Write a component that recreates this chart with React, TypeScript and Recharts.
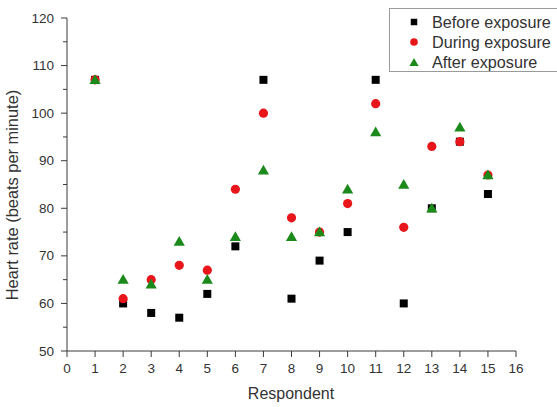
import { ScatterChart, Scatter, XAxis, YAxis, Label } from 'recharts'

const respondents = [1, 2, 3, 4, 5, 6, 7, 8, 9, 10, 11, 12, 13, 14, 15]
const beforeExposure = [107, 60, 58, 57, 62, 72, 107, 61, 69, 75, 107, 60, 80, 94, 83]
const duringExposure = [107, 61, 65, 68, 67, 84, 100, 78, 75, 81, 102, 76, 93, 94, 87]
const afterExposure = [107, 65, 64, 73, 65, 74, 88, 74, 75, 84, 96, 85, 80, 97, 87]

const xTicks = [0, 1, 2, 3, 4, 5, 6, 7, 8, 9, 10, 11, 12, 13, 14, 15, 16]
const yTicks = [50, 55, 60, 65, 70, 75, 80, 85, 90, 95, 100, 105, 110, 115, 120]

const font = '"Liberation Sans", Arial, sans-serif'
const axisColor = '#3a3a3a'
const textColor = '#333'
const RED = '#e8161a'
const GREEN = '#1b8a1b'

const toPoints = (vals: number[]) => respondents.map((r, i) => ({ x: r, y: vals[i] }))

const Square = ({ cx, cy, s = 8 }: any) => <rect x={cx - s / 2} y={cy - s / 2} width={s} height={s} fill="#000" />
const Dot = ({ cx, cy, r = 4.6 }: any) => <circle cx={cx} cy={cy} r={r} fill={RED} />
const Tri = ({ cx, cy, s = 5.6 }: any) => (
  <polygon points={`${cx},${cy - s} ${cx - s},${cy + s * 0.75} ${cx + s},${cy + s * 0.75}`} fill={GREEN} />
)

const YTick = ({ x, y, payload }: any) => {
  const major = payload.value % 10 === 0
  return (
    <g>
      <line x1={x - (major ? 6 : 4)} x2={x} y1={y} y2={y} stroke={axisColor} />
      {major && (
        <text x={x - 13} y={y} dy={4.5} textAnchor="end" fontSize={13.5} fill={textColor} fontFamily={font}>
          {payload.value}
        </text>
      )}
    </g>
  )
}

const XTick = ({ x, y, payload }: any) => (
  <g>
    <line x1={x} x2={x} y1={y} y2={y + 6} stroke={axisColor} />
    <text x={x} y={y + 22} textAnchor="middle" fontSize={13.5} fill={textColor} fontFamily={font}>
      {payload.value}
    </text>
  </g>
)

const legendRows = [
  { name: 'Before exposure', icon: <Square cx={7} cy={7} s={6.5} /> },
  { name: 'During exposure', icon: <Dot cx={7} cy={7} r={3.8} /> },
  { name: 'After exposure', icon: <Tri cx={7} cy={7.5} s={4.6} /> },
]

export default function App() {
  return (
    <div style={{ position: 'absolute', left: 0, top: 0, width: 557, height: 407, overflow: 'hidden', background: '#fff' }}>
      <ScatterChart width={557} height={407} margin={{ top: 18, right: 41, bottom: 0, left: 0 }}>
        <XAxis
          type="number"
          dataKey="x"
          domain={[0, 16]}
          ticks={xTicks}
          height={56}
          axisLine={{ stroke: axisColor }}
          tickLine={false}
          tickSize={0}
          tickMargin={0}
          tick={<XTick />}
        >
          <Label
            content={() => (
              <text x={291} y={399} textAnchor="middle" fontSize={16} fill={textColor} fontFamily={font}>
                Respondent
              </text>
            )}
          />
        </XAxis>
        <YAxis
          type="number"
          dataKey="y"
          domain={[50, 120]}
          ticks={yTicks}
          width={67}
          interval={0}
          axisLine={{ stroke: axisColor }}
          tickLine={false}
          tickSize={0}
          tickMargin={0}
          tick={<YTick />}
        >
          <Label
            content={() => (
              <text
                x={18}
                y={195}
                transform="rotate(-90 18 195)"
                textAnchor="middle"
                fontSize={16.4}
                fill={textColor}
                fontFamily={font}
              >
                Heart rate (beats per minute)
              </text>
            )}
          />
        </YAxis>
        <Scatter name="Before exposure" data={toPoints(beforeExposure)} shape={(p: any) => <Square cx={p.cx} cy={p.cy} />} isAnimationActive={false} />
        <Scatter name="During exposure" data={toPoints(duringExposure)} shape={(p: any) => <Dot cx={p.cx} cy={p.cy} />} isAnimationActive={false} />
        <Scatter name="After exposure" data={toPoints(afterExposure)} shape={(p: any) => <Tri cx={p.cx} cy={p.cy} />} isAnimationActive={false} />
      </ScatterChart>

      {/* legend box, runs off the right edge like the original */}
      <div
        style={{
          position: 'absolute',
          left: 389,
          top: 8,
          width: 180,
          height: 64,
          border: '1px solid #9a9a9a',
          background: '#fff',
          fontFamily: font,
          fontSize: 16.2,
          color: textColor,
          boxSizing: 'border-box',
          paddingTop: 3,
        }}
      >
        {legendRows.map(r => (
          <div key={r.name} style={{ display: 'flex', alignItems: 'center', height: 20, lineHeight: '20px' }}>
            <svg width={14} height={14} style={{ marginLeft: 17, marginRight: 11 }}>
              {r.icon}
            </svg>
            <span style={{ whiteSpace: 'nowrap' }}>{r.name}</span>
          </div>
        ))}
      </div>
    </div>
  )
}
